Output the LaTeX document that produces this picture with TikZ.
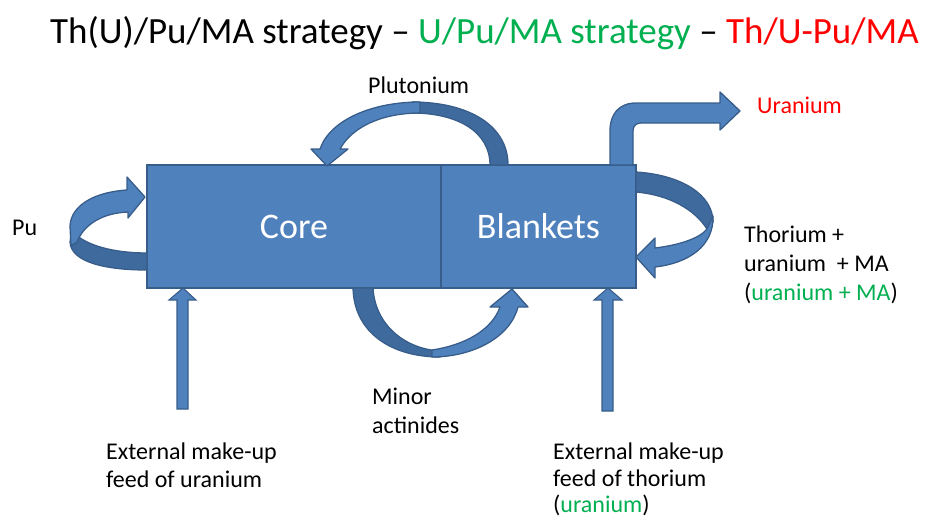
\documentclass[tikz,border=0pt]{standalone}
\usepackage{fontspec}
\setmainfont{Carlito}
\definecolor{boxblue}{RGB}{79,129,189}
\definecolor{bandblue}{RGB}{63,106,158}
\definecolor{edgeblue}{RGB}{56,93,138}
\definecolor{tgreen}{RGB}{0,176,80}
\definecolor{tred}{RGB}{255,0,0}
\begin{document}
\begin{tikzpicture}[x=1pt,y=-1pt,
  box/.style={draw=edgeblue, fill=boxblue, line width=1.6pt, inner sep=0pt, text=white, font=\fontsize{36}{40}\selectfont},
  lightpart/.style={fill=boxblue, draw=edgeblue, line width=1.3pt, line join=round},
  darkpart/.style={fill=bandblue, draw=edgeblue, line width=1.3pt, line join=round},
  feedarrow/.style={fill=boxblue, draw=edgeblue, line width=1.1pt, line join=miter},
  lbl/.style={anchor=base west, inner sep=0pt, font=\fontsize{24}{29}\selectfont}]
\useasboundingbox (0,0) rectangle (925,519);

% main block
\node[box, minimum width=294pt, minimum height=123pt] (core) at (294,226.5) {Core};
\node[box, minimum width=195pt, minimum height=123pt] (blankets) at (538.5,226.5) {Blankets};

% Pu loop (left)
\path[darkpart] (147,270) .. controls (105,270) and (71,262) .. (70,242) -- (72,231) .. controls (85,246) and (115,253) .. (147,253) -- cycle;
\path[lightpart] (71,246) -- (70,226) .. controls (71,205) and (95,192) .. (127,190) -- (127,177) -- (145,197) -- (128,218) -- (128,212) .. controls (103,213) and (84,224) .. (77,242) -- cycle;

% Plutonium arrow (top)
\path[darkpart] (508,165) .. controls (508,125) and (468,102) .. (412,102) -- (412,113) .. controls (458,113) and (490,132) .. (490,165) -- cycle;
\path[lightpart] (420,102) .. controls (372,102) and (330,120) .. (320,149) -- (311,149) -- (327,166) -- (348,149) -- (340,149) .. controls (352,127) and (382,113) .. (420,113) -- cycle;

% Minor actinides arrow (bottom)
\path[darkpart] (353,288) .. controls (354,333) and (392,357) .. (440,357) -- (440,351) .. controls (405,349) and (375,325) .. (373,288) -- cycle;
\path[lightpart] (432,357) .. controls (472,357) and (510,338) .. (518,307) -- (528,307) -- (512,289) -- (490,307) -- (500,307) .. controls (492,330) and (465,345) .. (432,350) -- cycle;

% right loop
\path[darkpart] (636,172) .. controls (682,175) and (713,195) .. (713,222) -- (707,229) .. controls (695,210) and (670,195) .. (636,192) -- cycle;
\path[lightpart] (713,216) .. controls (714,245) and (690,263) .. (655,267) -- (655,278) -- (636,257) -- (655,238) -- (655,248) .. controls (680,245) and (700,238) .. (707,229) -- cycle;

% Uranium elbow arrow
\path[lightpart] (610,165) -- (610,131) .. controls (610,114) and (619,103) .. (636,103) -- (720,103) -- (720,92) -- (740,111) -- (720,130) -- (720,123) -- (641,123) .. controls (636,123) and (633,126) .. (633,131) -- (633,165) -- cycle;

% external feed arrows
\path[feedarrow] (177,409) -- (177,300) -- (169,300) -- (183,288) -- (196,300) -- (188,300) -- (188,409) -- cycle;
\path[feedarrow] (602,411) -- (602,300) -- (594,300) -- (608,288) -- (622,300) -- (613,300) -- (613,411) -- cycle;

% texts
\node[lbl, font=\fontsize{37}{40}\selectfont] (title) at (50,44) {Th(U)/Pu/MA strategy -- \textcolor{tgreen}{U/Pu/MA strategy} -- \textcolor{tred}{Th/U-Pu/MA}};
\node[lbl] (pu) at (12,235) {Pu};
\node[lbl] (plut) at (368,93) {Plutonium};
\node[lbl, text=tred] (uran) at (757,113) {Uranium};
\node[lbl] (th1) at (744,242) {Thorium +};
\node[lbl] (th2) at (744,271) {uranium~ + MA};
\node[lbl] (th3) at (744,300) {(\textcolor{tgreen}{uranium + MA})};
\node[lbl] (ma1) at (372,404) {Minor};
\node[lbl] (ma2) at (372,433) {actinides};
\node[lbl] (fu1) at (106,459) {External make-up};
\node[lbl] (fu2) at (106,487) {feed of uranium};
\node[lbl] (ft1) at (553,459) {External make-up};
\node[lbl] (ft2) at (553,486) {feed of thorium};
\node[lbl] (ft3) at (553,512) {(\textcolor{tgreen}{uranium})};
\end{tikzpicture}
\end{document}
